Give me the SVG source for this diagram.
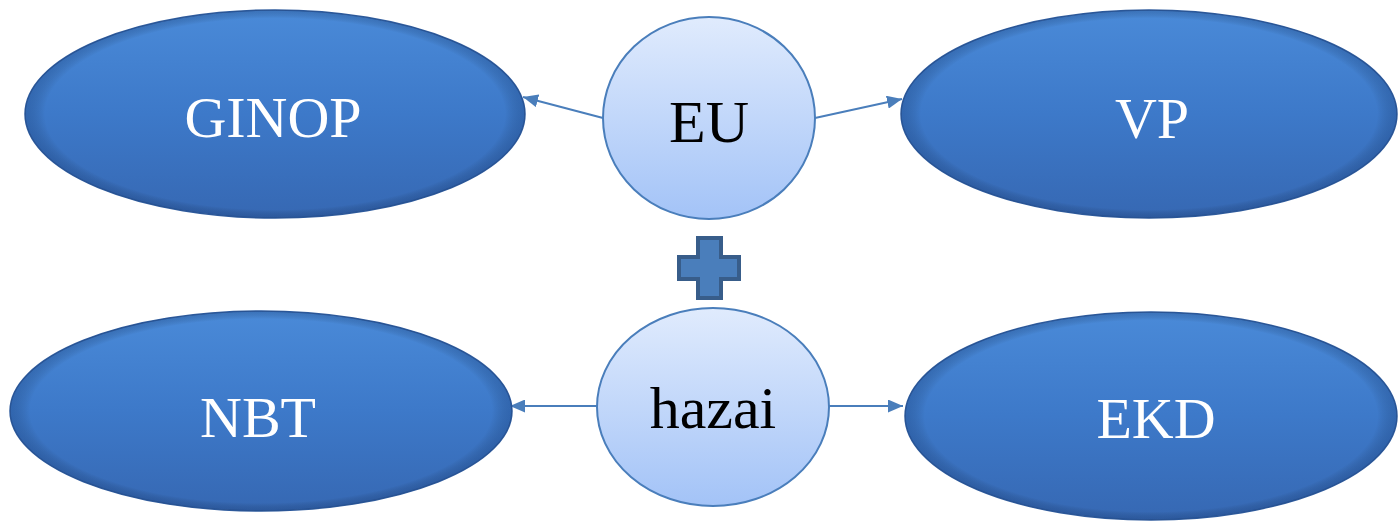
<svg xmlns="http://www.w3.org/2000/svg" width="1399" height="521" viewBox="0 0 1399 521">
<defs>
<linearGradient id="dark" x1="0" y1="0" x2="0" y2="1">
<stop offset="0" stop-color="#4a8ad8"/>
<stop offset="0.5" stop-color="#3d79c9"/>
<stop offset="1" stop-color="#3668b3"/>
</linearGradient>
<radialGradient id="shade" cx="0.5" cy="0.5" r="0.5">
<stop offset="0.92" stop-color="#000" stop-opacity="0"/>
<stop offset="1" stop-color="#0a2a60" stop-opacity="0.25"/>
</radialGradient>
<linearGradient id="light" x1="0" y1="0" x2="0" y2="1">
<stop offset="0" stop-color="#e0ebfd"/>
<stop offset="1" stop-color="#a3c3f7"/>
</linearGradient>
<marker id="arr" viewBox="0 0 10 10" refX="10" refY="5" markerWidth="15" markerHeight="13" orient="auto" markerUnits="userSpaceOnUse" preserveAspectRatio="none">
<path d="M0,0 L10,5 L0,10 z" fill="#4a7ebb"/>
</marker>
<style>
.big{fill:url(#dark);stroke:#2f5c9e;stroke-width:1.5}
.bigs{fill:url(#shade)}
.small{fill:url(#light);stroke:#4a7ebb;stroke-width:2}
.wt{font-family:"Liberation Serif",serif;font-size:58px;fill:#fff;text-anchor:middle}
.bt{font-family:"Liberation Serif",serif;font-size:60px;fill:#000;text-anchor:middle}
.con{stroke:#4a7ebb;stroke-width:2;fill:none}
</style>
</defs>
<rect width="1399" height="521" fill="#fff"/>
<g id="connectors">
<line class="con" x1="603" y1="118" x2="523" y2="97" marker-end="url(#arr)"/>
<line class="con" x1="815" y1="118" x2="902" y2="99" marker-end="url(#arr)"/>
<line class="con" x1="597" y1="406" x2="510" y2="406" marker-end="url(#arr)"/>
<line class="con" x1="829" y1="406" x2="903" y2="406" marker-end="url(#arr)"/>
</g>
<g id="ginop">
<ellipse class="big" cx="275" cy="114" rx="250" ry="104"/>
<ellipse class="bigs" cx="275" cy="114" rx="250" ry="104"/>
<text class="wt" x="273" y="137">GINOP</text>
</g>
<g id="vp">
<ellipse class="big" cx="1149" cy="114" rx="248" ry="104"/>
<ellipse class="bigs" cx="1149" cy="114" rx="248" ry="104"/>
<text class="wt" x="1152" y="138">VP</text>
</g>
<g id="nbt">
<ellipse class="big" cx="261" cy="411" rx="251" ry="100"/>
<ellipse class="bigs" cx="261" cy="411" rx="251" ry="100"/>
<text class="wt" x="258" y="437">NBT</text>
</g>
<g id="ekd">
<ellipse class="big" cx="1151" cy="416" rx="246" ry="104"/>
<ellipse class="bigs" cx="1151" cy="416" rx="246" ry="104"/>
<text class="wt" x="1156" y="438">EKD</text>
</g>
<g id="eu">
<ellipse class="small" cx="709" cy="118" rx="106" ry="101"/>
<text class="bt" x="709" y="142">EU</text>
</g>
<g id="hazai">
<ellipse class="small" cx="713" cy="407" rx="116" ry="99"/>
<text class="bt" x="713" y="428">hazai</text>
</g>
<g id="plus">
<path d="M698,238 H721 V257 H739 V279 H721 V298 H698 V279 H679 V257 H698 Z" fill="#4a7ebb" stroke="#385d8a" stroke-width="4"/>
</g>
</svg>
